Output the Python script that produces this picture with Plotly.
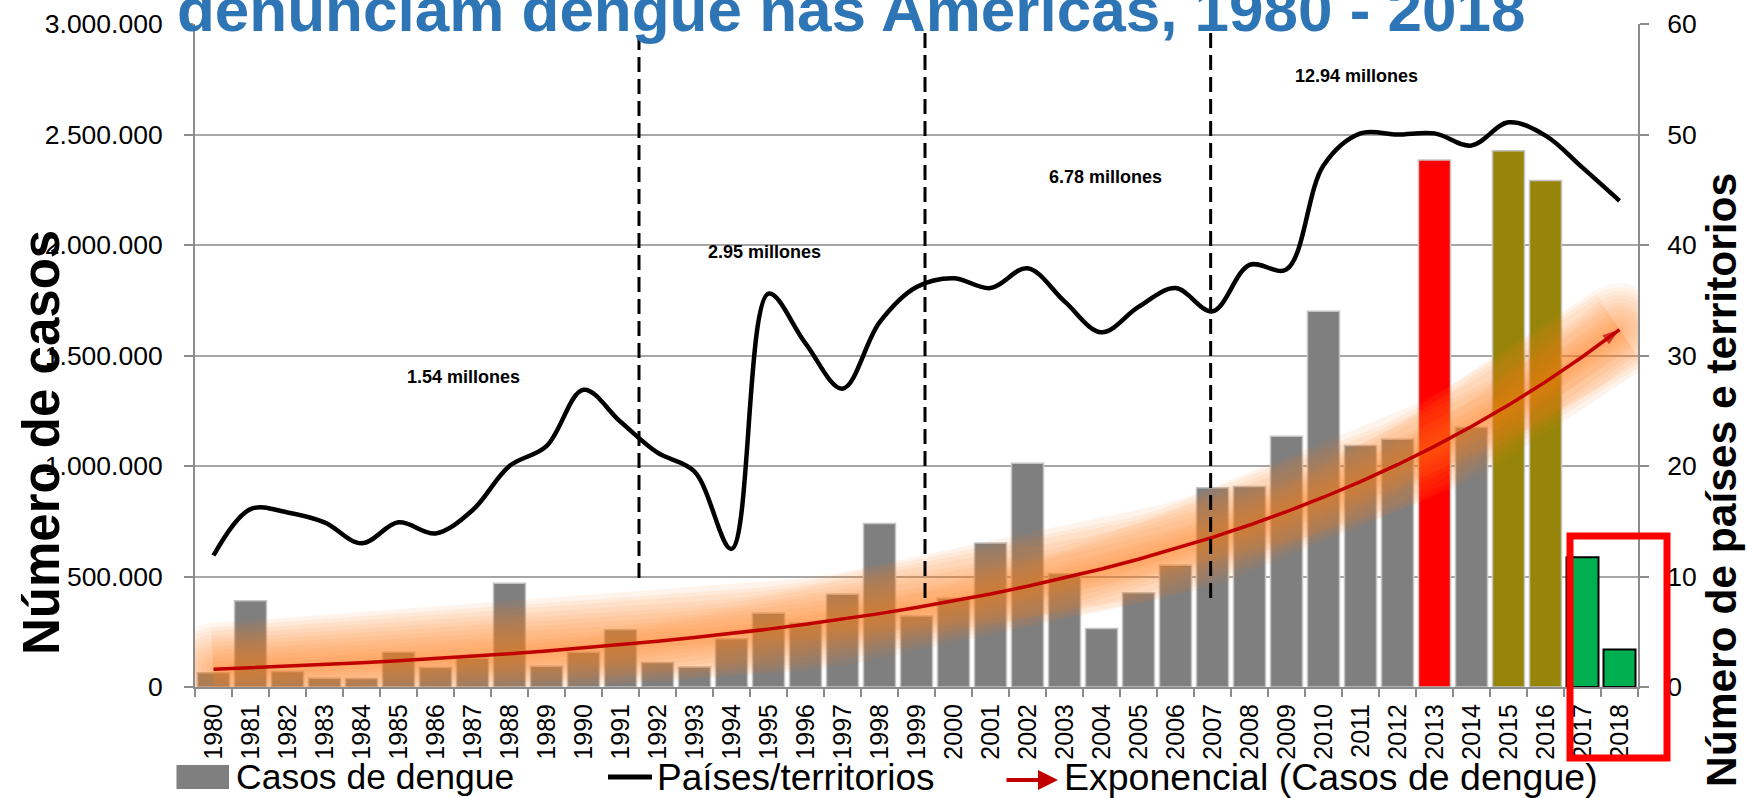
import numpy as np
import plotly.graph_objects as go

# ---- data -------------------------------------------------------------
years = [str(y) for y in range(1980, 2019)]

casos = [64000, 390000, 70000, 40000, 38000, 157000, 88000, 131000, 469000, 94000,
         157000, 259000, 111000, 91000, 218000, 334000, 290000, 420000, 740000, 321000,
         402000, 652000, 1012000, 513000, 265000, 426000, 551000, 902000, 907000, 1135000,
         1700000, 1093000, 1121000, 2385000, 1175000, 2427000, 2292000, 587000, 170000]

paises = [11.9, 16.1, 15.8, 14.9, 13.0, 14.9, 13.9, 16.0, 20.0, 21.8,
          26.9, 24.0, 21.2, 19.5, 12.5, 35.6, 31.1, 27.0, 33.0, 36.2,
          37.0, 36.1, 37.9, 34.9, 32.1, 34.4, 36.1, 34.0, 38.2, 37.8,
          47.2, 50.1, 50.0, 50.1, 49.0, 51.1, 49.9, 47.0, 44.0]

periodos = ["1.54 millones", "2.95 millones", "6.78 millones", "12.94 millones"]

y_ticks_left = [0, 500000, 1000000, 1500000, 2000000, 2500000, 3000000]
y_ticks_right = [0, 10, 20, 30, 40, 50, 60]

# ---- styling ----------------------------------------------------------
FONT = "Liberation Sans, Arial, sans-serif"
GRAY_BAR = "#7F7F7F"
highlight = {"2013": "#FF0000", "2015": "#978509", "2016": "#978509",
             "2017": "#00B050", "2018": "#00B050"}
bar_colors = [highlight.get(y, GRAY_BAR) for y in years]
bar_lines = ["#000000" if highlight.get(y) == "#00B050" else "#C4C4C4" for y in years]
bar_line_w = [2 if highlight.get(y) == "#00B050" else 1.5 for y in years]

# exponential trend (least squares on log of the cases)
idx = np.arange(len(years))
coef = np.polyfit(idx, np.log(np.array(casos, dtype=float)), 1)
tendencia = np.exp(np.polyval(coef, idx))

fig = go.Figure()

fig.add_trace(go.Bar(
    x=years, y=casos, name="Casos de dengue",
    marker=dict(color=bar_colors, line=dict(color=bar_lines, width=bar_line_w)),
    yaxis="y", showlegend=False,
))

# soft orange halo around the trend: many translucent strokes, with round ends
n = len(years)
for w in np.linspace(92, 8, 12):
    w = float(w)
    fig.add_trace(go.Scatter(
        x=years, y=tendencia, mode="lines+markers",
        line=dict(color="rgb(255,125,25)", width=w),
        marker=dict(size=[w] + [0] * (n - 2) + [w], color="rgb(255,125,25)",
                    line=dict(width=0)),
        opacity=0.08, hoverinfo="skip", showlegend=False, yaxis="y",
    ))

fig.add_trace(go.Scatter(
    x=years, y=tendencia, mode="lines+markers",
    name="Exponencial (Casos de dengue)",
    line=dict(color="#C00000", width=3.5),
    marker=dict(symbol=["circle"] * (n - 1) + ["arrow"],
                size=[0] * (n - 1) + [18], angleref="previous",
                color="#C00000", line=dict(width=0)),
    showlegend=False, yaxis="y",
))

fig.add_trace(go.Scatter(
    x=years, y=paises, mode="lines", name="Países/territorios",
    line=dict(color="black", width=4.5, shape="spline"),
    yaxis="y2", showlegend=False,
))

# ---- layout -----------------------------------------------------------
W, H = 1747, 798
L, R, T, B = 195, 109, 24, 111
pw, ph = W - L - R, H - T - B


def px_x(px):
    return (px - L) / pw


def px_y(py):
    return (H - B - py) / ph


shapes = []
annotations = []

# period separators
for xi, ybot in [(11.5, 578), (19.23, 598), (26.95, 598)]:
    shapes.append(dict(type="line", xref="x", yref="paper", x0=xi, x1=xi,
                       y0=px_y(ybot), y1=px_y(31),
                       line=dict(color="black", width=3, dash="15px,7px")))

# period totals
for txt, xi, py in zip(periodos, [6.77, 14.9, 24.12, 30.88], [376.7, 251.7, 176.7, 76]):
    annotations.append(dict(text=txt, xref="x", yref="paper", x=xi, y=px_y(py),
                            showarrow=False, xanchor="center", yanchor="middle",
                            font=dict(family=FONT, size=18, color="black", weight="bold")))

# highlight box for the last two years
shapes.append(dict(type="rect", xref="paper", yref="paper",
                   x0=px_x(1570), x1=px_x(1667), y0=px_y(758), y1=px_y(536),
                   line=dict(color="#FF0000", width=7), layer="above"))

# title line (its upper part falls above the page edge)
annotations.append(dict(text="denunciam dengue nas Américas, 1980 - 2018",
                        xref="paper", yref="paper", x=px_x(851), y=px_y(46),
                        xanchor="center", yanchor="bottom", showarrow=False,
                        font=dict(family=FONT, size=62, color="#2E75B6", weight="bold")))

# axis titles
annotations.append(dict(text="Número de casos", textangle=-90,
                        xref="paper", yref="paper", x=px_x(41), y=px_y(443),
                        xanchor="center", yanchor="middle", showarrow=False,
                        font=dict(family=FONT, size=51, color="black", weight="bold")))
annotations.append(dict(text="Número de países e territorios", textangle=-90,
                        xref="paper", yref="paper", x=px_x(1721), y=px_y(480),
                        xanchor="center", yanchor="middle", showarrow=False,
                        font=dict(family=FONT, size=42.5, color="black", weight="bold")))

# legend
LEG_Y = 777
shapes.append(dict(type="rect", xref="paper", yref="paper",
                   x0=px_x(176.5), x1=px_x(229), y0=px_y(789), y1=px_y(765),
                   fillcolor=GRAY_BAR, line=dict(width=0)))
shapes.append(dict(type="line", xref="paper", yref="paper",
                   x0=px_x(608), x1=px_x(652), y0=px_y(LEG_Y), y1=px_y(LEG_Y),
                   line=dict(color="black", width=5)))
annotations.append(dict(text="", xref="paper", yref="paper",
                        x=px_x(1058), y=px_y(780), ax=-53, ay=0, axref="pixel", ayref="pixel",
                        showarrow=True, arrowhead=2, arrowsize=1, arrowwidth=4,
                        arrowcolor="#C00000"))
for txt, px, fs in [("Casos de dengue", 234, 35.5), ("Países/territorios", 655, 37),
                    ("Exponencial (Casos de dengue)", 1062, 37.5)]:
    annotations.append(dict(text=txt, xref="paper", yref="paper",
                            x=px_x(px), y=px_y(LEG_Y), xanchor="left", yanchor="middle",
                            showarrow=False,
                            font=dict(family=FONT, size=fs, color="black")))

fig.update_layout(
    width=W, height=H,
    margin=dict(l=L, r=R, t=T, b=B, autoexpand=False),
    paper_bgcolor="white", plot_bgcolor="white",
    separators=",.",
    bargap=0.135,
    font=dict(family=FONT, color="black"),
    xaxis=dict(type="category", categoryorder="array", categoryarray=years,
               tickangle=-90, tickfont=dict(size=25, family=FONT),
               ticks="outside", tickson="boundaries", ticklen=8,
               tickcolor="#8C8C8C", tickwidth=1.5,
               showline=True, linecolor="#8C8C8C", linewidth=2,
               showgrid=False, ticklabelstandoff=5,
               range=[-0.5, len(years) - 0.5]),
    yaxis=dict(range=[0, 3000000], tickvals=y_ticks_left, tickformat=",.0f",
               tickfont=dict(size=26.5, family=FONT),
               ticks="outside", ticklen=9, tickcolor="#8C8C8C", tickwidth=1.5,
               showline=True, linecolor="#8C8C8C", linewidth=2,
               showgrid=True, gridcolor="#A6A6A6", gridwidth=1.5,
               zeroline=False, ticklabelstandoff=16),
    yaxis2=dict(range=[0, 60], tickvals=y_ticks_right, overlaying="y", side="right",
                tickfont=dict(size=26.5, family=FONT),
                ticks="outside", ticklen=9, tickcolor="#8C8C8C", tickwidth=1.5,
                showline=True, linecolor="#8C8C8C", linewidth=2,
                showgrid=False, zeroline=False, ticklabelstandoff=13),
    shapes=shapes,
    annotations=annotations,
)

fig.write_html("out.html")
